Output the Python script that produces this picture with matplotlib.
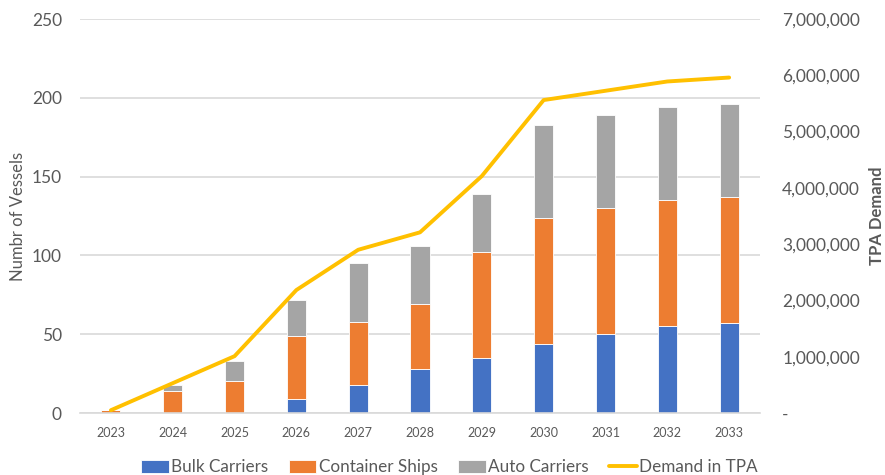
import matplotlib.pyplot as plt
from matplotlib.ticker import FuncFormatter
import numpy as np

# datos
anios = ['2023', '2024', '2025', '2026', '2027', '2028', '2029', '2030', '2031', '2032', '2033']
bulk = [0, 0, 0, 9, 18, 28, 35, 44, 50, 55, 57]
container = [2, 14, 20, 40, 40, 41, 67, 80, 80, 80, 80]
auto = [0, 4, 13, 23, 37, 37, 37, 59, 59, 59, 59]
demanda_tpa = [50000, 530000, 1010000, 2185000, 2900000, 3210000, 4210000, 5560000, 5725000, 5890000, 5960000]

AZUL = '#4472C4'
NARANJA = '#ED7D31'
GRIS = '#A5A5A5'
AMARILLO = '#FFC000'
TEXTO = '#595959'

plt.rcParams['font.family'] = ['Lato', 'DejaVu Sans']

fig = plt.figure(figsize=(8.85, 4.75), dpi=100)
ax = fig.add_axes([0.0904, 0.1305, 0.7684, 0.8295])

x = np.arange(len(anios))
ancho = 0.31
b1 = np.array(bulk)
b2 = b1 + np.array(container)

ax.bar(x, bulk, ancho, color=AZUL, edgecolor='white', linewidth=0.6, label='Bulk Carriers', zorder=2)
ax.bar(x, container, ancho, bottom=b1, color=NARANJA, edgecolor='white', linewidth=0.6, label='Container Ships', zorder=2)
ax.bar(x, auto, ancho, bottom=b2, color=GRIS, edgecolor='white', linewidth=0.6, label='Auto Carriers', zorder=2)

ax.set_xlim(-0.5, len(anios) - 0.5)
ax.set_ylim(0, 250)
ax.set_yticks(range(0, 251, 50))
ax.set_xticks(x)
ax.set_xticklabels(anios, fontsize=9, color=TEXTO)
ax.tick_params(axis='y', labelsize=12.5, labelcolor=TEXTO, length=0, pad=13)
ax.tick_params(axis='x', length=0, pad=10)
ax.grid(axis='y', color='#D9D9D9', linewidth=1.2, zorder=0)
ax.set_axisbelow(True)
for lado in ['top', 'right', 'left']:
    ax.spines[lado].set_visible(False)
ax.spines['bottom'].set_color('#D9D9D9')
ax.spines['bottom'].set_linewidth(1.2)
ax.set_ylabel('Numbr of Vessels', fontsize=12, color=TEXTO)
ax.yaxis.set_label_coords(-0.079, 0.5)

# eje secundario con la demanda
ax2 = ax.twinx()
ax2.plot(x, demanda_tpa, color=AMARILLO, linewidth=2.8, label='Demand in TPA', solid_capstyle='round')
ax2.set_ylim(0, 7000000)
ax2.set_yticks(range(0, 7000001, 1000000))
ax2.yaxis.set_major_formatter(FuncFormatter(lambda v, p: '-' if v == 0 else f'{int(v):,}'))
ax2.tick_params(axis='y', labelsize=12.5, labelcolor=TEXTO, length=0, pad=16)
for lado in ['top', 'right', 'left', 'bottom']:
    ax2.spines[lado].set_visible(False)
ax2.set_ylabel('TPA Demand', fontsize=12, color=TEXTO, fontweight='bold')
ax2.yaxis.set_label_coords(1.16, 0.5)

h1, l1 = ax.get_legend_handles_labels()
h2, l2 = ax2.get_legend_handles_labels()
fig.legend(h1 + h2, l1 + l2, loc='center', bbox_to_anchor=(0.508, 0.016), ncol=4,
           frameon=False, fontsize=12.3, labelcolor=TEXTO, handlelength=1.6, handleheight=0.85,
           handletextpad=0.15, columnspacing=1.2)

fig.savefig('out.png', dpi=100)
